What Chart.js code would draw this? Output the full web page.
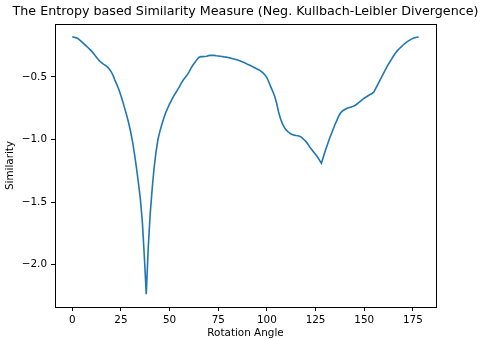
<!DOCTYPE html>
<html lang="en">
<head>
    <meta charset="UTF-8">
    <title>Entropy based Similarity Measure</title>
    <script src="https://cdn.jsdelivr.net/npm/chart.js"></script>
    <style>
        body {
            margin: 0;
            background-color: #ffffff;
        }
    </style>
</head>
<body>
    <canvas id="chart" width="481" height="340"></canvas>

    <script>
        // Rotation angles (degrees)
        const angles = [
            0, 1, 2, 3, 4, 5, 6, 7, 8, 9, 10, 11, 12, 13, 14, 15, 16, 17, 18, 19,
            20, 21, 22, 23, 24, 25, 26, 27, 28, 29, 30, 31, 32, 33, 34, 35, 36, 37, 38, 39,
            40, 41, 42, 43, 44, 45, 46, 47, 48, 49, 50, 51, 52, 53, 54, 55, 56, 57, 58, 59,
            60, 61, 62, 63, 64, 65, 66, 67, 68, 69, 70, 71, 72, 73, 74, 75, 76, 77, 78, 79,
            80, 81, 82, 83, 84, 85, 86, 87, 88, 89, 90, 91, 92, 93, 94, 95, 96, 97, 98, 99,
            100, 101, 102, 103, 104, 105, 106, 107, 108, 109, 110, 111, 112, 113, 114, 115, 116, 117, 118, 119,
            120, 121, 122, 123, 124, 125, 126, 127, 128, 129, 130, 131, 132, 133, 134, 135, 136, 137, 138, 139,
            140, 141, 142, 143, 144, 145, 146, 147, 148, 149, 150, 151, 152, 153, 154, 155, 156, 157, 158, 159,
            160, 161, 162, 163, 164, 165, 166, 167, 168, 169, 170, 171, 172, 173, 174, 175, 176, 177, 178
        ];

        // Neg. KL divergence for each angle
        const similarity = [
            -0.180, -0.183, -0.188, -0.195, -0.208, -0.222, -0.236, -0.250, -0.265, -0.280,
            -0.296, -0.315, -0.335, -0.355, -0.372, -0.385, -0.397, -0.408, -0.420, -0.437,
            -0.460, -0.490, -0.530, -0.565, -0.605, -0.650, -0.700, -0.755, -0.810, -0.870,
            -0.940, -1.020, -1.120, -1.230, -1.350, -1.480, -1.660, -1.930, -2.235, -1.870,
            -1.600, -1.400, -1.230, -1.100, -1.000, -0.935, -0.880, -0.830, -0.785, -0.750,
            -0.715, -0.685, -0.655, -0.630, -0.605, -0.580, -0.550, -0.525, -0.505, -0.485,
            -0.460, -0.430, -0.405, -0.385, -0.362, -0.345, -0.338, -0.338, -0.337, -0.335,
            -0.330, -0.328, -0.327, -0.328, -0.331, -0.333, -0.335, -0.337, -0.340, -0.342,
            -0.345, -0.348, -0.352, -0.356, -0.360, -0.365, -0.370, -0.376, -0.383, -0.390,
            -0.398, -0.405, -0.413, -0.420, -0.428, -0.436, -0.444, -0.455, -0.468, -0.484,
            -0.505, -0.540, -0.580, -0.615, -0.655, -0.710, -0.780, -0.835, -0.875, -0.905,
            -0.925, -0.940, -0.952, -0.960, -0.965, -0.968, -0.970, -0.975, -0.985, -1.000,
            -1.015, -1.035, -1.060, -1.080, -1.100, -1.120, -1.140, -1.165, -1.190, -1.140,
            -1.090, -1.045, -1.000, -0.960, -0.920, -0.880, -0.845, -0.810, -0.785, -0.770,
            -0.760, -0.752, -0.747, -0.742, -0.737, -0.730, -0.720, -0.708, -0.695, -0.682,
            -0.670, -0.660, -0.650, -0.640, -0.632, -0.620, -0.590, -0.560, -0.530, -0.500,
            -0.470, -0.440, -0.410, -0.385, -0.360, -0.335, -0.310, -0.290, -0.275, -0.260,
            -0.245, -0.232, -0.220, -0.210, -0.200, -0.192, -0.187, -0.183, -0.181
        ];

        const xTicks = [0, 25, 50, 75, 100, 125, 150, 175];
        const yTicks = [-2.0, -1.5, -1.0, -0.5];
        const titulo = 'The Entropy based Similarity Measure (Neg. Kullbach-Leibler Divergence)';

        const fuente = 'DejaVu Sans';

        // caja completa alrededor del area + titulo centrado sobre los ejes (como matplotlib)
        const cajaPlugin = {
            id: 'caja',
            afterDraw(chart) {
                const a = chart.chartArea;
                const ctx = chart.ctx;
                ctx.save();
                ctx.strokeStyle = '#000000';
                ctx.lineWidth = 1;
                ctx.strokeRect(Math.round(a.left) + 0.5, Math.round(a.top) + 0.5,
                    Math.round(a.right - a.left), Math.round(a.bottom - a.top));

                ctx.fillStyle = '#000000';
                ctx.font = '12.7px "' + fuente + '"';
                ctx.textAlign = 'center';
                ctx.textBaseline = 'middle';
                ctx.fillText(titulo, (a.left + a.right) / 2, 11.5);
                ctx.restore();
            }
        };

        const puntos = angles.map((a, i) => ({ x: a, y: similarity[i] }));

        new Chart(document.getElementById('chart').getContext('2d'), {
            type: 'line',
            data: {
                datasets: [{
                    data: puntos,
                    borderColor: '#1f77b4',
                    borderWidth: 1.6,
                    pointRadius: 0,
                    tension: 0,
                    fill: false
                }]
            },
            options: {
                responsive: false,
                animation: false,
                layout: {
                    padding: { left: 0, right: 45, top: 24, bottom: 0 }
                },
                plugins: {
                    legend: { display: false },
                    tooltip: { enabled: false },
                    title: { display: false }
                },
                scales: {
                    x: {
                        type: 'linear',
                        min: -8.9,
                        max: 186.9,
                        afterBuildTicks: s => { s.ticks = xTicks.map(v => ({ value: v })); },
                        afterFit: s => { s.height = 33; },
                        border: { display: false },
                        grid: {
                            drawOnChartArea: false,
                            drawTicks: true,
                            tickLength: 4,
                            tickColor: '#000000'
                        },
                        ticks: {
                            color: '#000000',
                            padding: 3,
                            maxRotation: 0,
                            font: { family: fuente, size: 10.4 }
                        },
                        title: {
                            display: true,
                            text: 'Rotation Angle',
                            color: '#000000',
                            padding: { top: 0, bottom: 0 },
                            font: { family: fuente, size: 10.4 }
                        }
                    },
                    y: {
                        type: 'linear',
                        min: -2.3378,
                        max: -0.0772,
                        afterBuildTicks: s => { s.ticks = yTicks.map(v => ({ value: v })); },
                        afterFit: s => { s.width = 55; },
                        border: { display: false },
                        grid: {
                            drawOnChartArea: false,
                            drawTicks: true,
                            tickLength: 4,
                            tickColor: '#000000'
                        },
                        ticks: {
                            color: '#000000',
                            padding: 4,
                            font: { family: fuente, size: 10.4 },
                            callback: v => v.toFixed(1).replace('-', '\u2212')
                        },
                        title: {
                            display: true,
                            text: 'Similarity',
                            color: '#000000',
                            padding: { top: 4, bottom: 0 },
                            font: { family: fuente, size: 10.4 }
                        }
                    }
                }
            },
            plugins: [cajaPlugin]
        });
    </script>
</body>
</html>
